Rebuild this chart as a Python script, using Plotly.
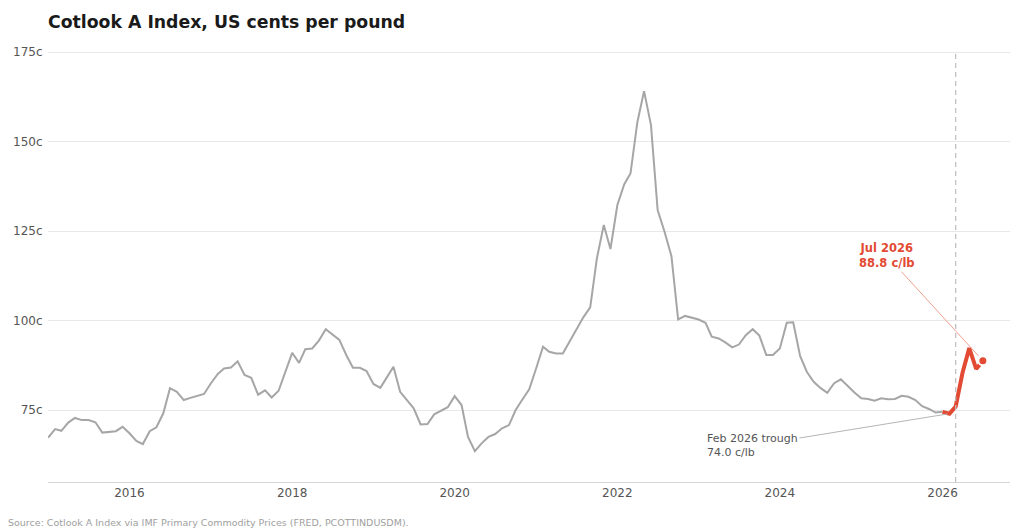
import pandas as pd
import plotly.graph_objects as go

# Monthly Cotlook A index, US cents per lb
hist_start = "2015-01-01"
hist_values = [
    67.3, 69.7, 69.2, 71.5, 72.8, 72.2, 72.2, 71.6, 68.7, 68.9, 69.1, 70.3,    # 2015
    68.5, 66.4, 65.5, 69.1, 70.2, 74.1, 81.1, 80.1, 77.8, 78.4, 78.9, 79.5,    # 2016
    82.5, 85.1, 86.6, 86.9, 88.6, 84.8, 84.0, 79.3, 80.5, 78.5, 80.4, 85.5,    # 2017
    91.0, 88.2, 92.0, 92.2, 94.4, 97.6, 96.1, 94.6, 90.4, 86.8, 86.8, 85.9,    # 2018
    82.3, 81.2, 84.0, 87.1, 80.1, 77.8, 75.5, 71.0, 71.1, 73.8, 74.8, 75.8,    # 2019
    78.9, 76.4, 67.5, 63.5, 65.7, 67.5, 68.3, 69.9, 70.8, 75.0, 78.0, 80.8,    # 2020
    86.6, 92.7, 91.3, 90.8, 90.8, 94.1, 97.2, 100.9, 103.7, 117.4, 126.7, 120.0,  # 2021
    132.3, 138.1, 141.1, 155.5, 164.1, 154.6, 130.9, 124.8, 118.0, 100.3, 101.3, 100.9,  # 2022
    100.3, 99.4, 95.5, 95.0, 93.9, 92.5, 93.3, 95.9, 97.6, 95.8, 90.4, 90.4,   # 2023
    92.2, 99.4, 99.5, 90.1, 85.7, 82.9, 81.2, 79.8, 82.5, 83.6, 81.7, 79.9,    # 2024
    78.3, 78.1, 77.6, 78.3, 78.0, 78.1, 79.0, 78.7, 77.8, 76.1, 75.3, 74.3,    # 2025
    74.5,                                                                    # Jan 2026
]

recent_start = "2026-01-01"
recent_values = [74.5, 74.0, 76.0, 85.5, 92.3, 86.5, 88.8]

y_ticks = [75, 100, 125, 150, 175]
y_tick_labels = [f"{v}c" for v in y_ticks]
marker_date = "2026-03-01"

trough_label = "Feb 2026 trough<br>74.0 c/lb"
latest_label = "<b>Jul 2026<br>88.8 c/lb</b>"
source_text = "Source: Cotlook A Index via IMF Primary Commodity Prices (FRED, PCOTTINDUSDM)."

hist_dates = pd.date_range(hist_start, periods=len(hist_values), freq="MS")
recent_dates = pd.date_range(recent_start, periods=len(recent_values), freq="MS")

RED = "#e34a33"
GREY = "#a6a6a6"

fig = go.Figure()

# historique
fig.add_trace(go.Scatter(
    x=hist_dates, y=hist_values, mode="lines",
    line=dict(color=GREY, width=2), showlegend=False, hoverinfo="skip",
))

# 2026 en rouge
fig.add_trace(go.Scatter(
    x=recent_dates, y=recent_values, mode="lines",
    line=dict(color=RED, width=4), showlegend=False,
))

# dernier point
fig.add_trace(go.Scatter(
    x=[recent_dates[-1]], y=[recent_values[-1]], mode="markers",
    marker=dict(color=RED, size=9, line=dict(color="white", width=2)),
    showlegend=False,
))

fig.add_shape(
    type="line", xref="x", yref="paper",
    x0=marker_date, x1=marker_date, y0=0, y1=1,
    line=dict(color="#bdbdbd", width=1.2, dash="5px,4px"),
)

fig.add_annotation(
    x=recent_dates[1], y=recent_values[1], text=trough_label,
    showarrow=True, arrowhead=0, arrowwidth=1, arrowcolor="#b5b5b5",
    ax=-197, ay=32, align="left", standoff=2,
    font=dict(size=11, color="#555555"),
)

fig.add_annotation(
    x=recent_dates[-1], y=recent_values[-1], text=latest_label,
    showarrow=True, arrowhead=0, arrowwidth=1, arrowcolor="#f0a090",
    ax=-96, ay=-105, align="center", standoff=6,
    font=dict(size=11.5, color=RED),
)

fig.add_annotation(
    xref="paper", yref="paper", x=-0.0437, y=-0.0926,
    xanchor="left", yanchor="middle", showarrow=False,
    text=source_text, font=dict(size=9.5, color="#a0a0a0"),
)

fig.update_xaxes(
    range=["2014-12-31", "2026-10-31"],
    tickformat="%Y", dtick="M24", tick0="2016-01-01",
    showgrid=False, showline=True, linecolor="#d6d6d6", linewidth=1,
    ticks="", tickfont=dict(size=12, color="#555555"),
    zeroline=False, automargin=False,
)

fig.update_yaxes(
    range=[54.9, 175.6],
    tickmode="array", tickvals=y_ticks, ticktext=y_tick_labels,
    showgrid=True, gridcolor="#e8e8e8", gridwidth=1,
    showline=False, zeroline=False, automargin=False,
    ticks="outside", ticklen=2, tickcolor="rgba(0,0,0,0)",
    tickfont=dict(size=12, color="#555555"),
)

# la page ajoute 8px de marge : on décale tout
fig.update_layout(
    width=1024, height=532,
    margin=dict(l=40, r=22, t=42, b=58, autoexpand=False),
    plot_bgcolor="white", paper_bgcolor="white",
    font=dict(family="DejaVu Sans", color="#333333"),
    title=dict(
        text="<b>Cotlook A Index, US cents per pound</b>",
        x=40 / 1024, xanchor="left", y=1 - 14 / 532, yanchor="middle",
        font=dict(size=17.3, color="#1a1a1a"),
    ),
)

fig.write_html("out.html")
